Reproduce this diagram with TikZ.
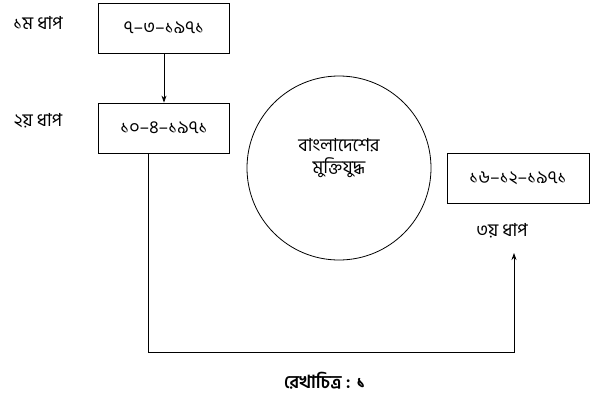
\documentclass[tikz,border=0pt]{standalone}
\usepackage{fontspec}
\newfontfamily\bnfont[Script=Bengali]{Hind Siliguri}
\usetikzlibrary{arrows.meta}
\tikzset{
  datebox/.style={draw, rectangle, minimum width=131pt, minimum height=50pt, inner sep=0pt},
  dhap/.style={inner sep=0pt},
  conn/.style={line width=0.8pt, -{Stealth[length=7pt,width=5pt]}}
}
\begin{document}
\begin{tikzpicture}[x=1pt,y=-1pt,font=\bnfont\fontsize{18}{22}\selectfont,line width=0.8pt]
   \useasboundingbox (0,0) rectangle (592,397);

   \node (dhap1) at (38,23) [dhap] {১ম ধাপ};
   \node (dhap2) at (38,121) [dhap] {২য় ধাপ};
   \node (dhap3) at (502,231) [dhap] {৩য় ধাপ};

   \node (d7) at (164,28) [datebox] {৭–৩–১৯৭১};
   \node (d10) at (164,128) [datebox] {১০–৪–১৯৭১};
   \node (d16) at (518,178) [datebox, minimum width=142pt] {১৬–১২–১৯৭১};

   \node (mukti) at (339,168) [draw, circle, minimum size=184pt] {};
   \node (muktitext) at (339,158) [align=center] {বাংলাদেশের\\মুক্তিযুদ্ধ};

   \node (rekha) at (325,381) [dhap] {\bfseries রেখাচিত্র : ১};

   \coordinate (bend1) at (148,352);
   \coordinate (bend2) at (514,352);
   \coordinate (tip) at (514,253);

   \draw [conn] (d7.south) -- (d10.north);
   \draw [conn] (d10.south -| bend1) -- (bend1) -- (bend2) -- (tip);

\end{tikzpicture}
\end{document}
